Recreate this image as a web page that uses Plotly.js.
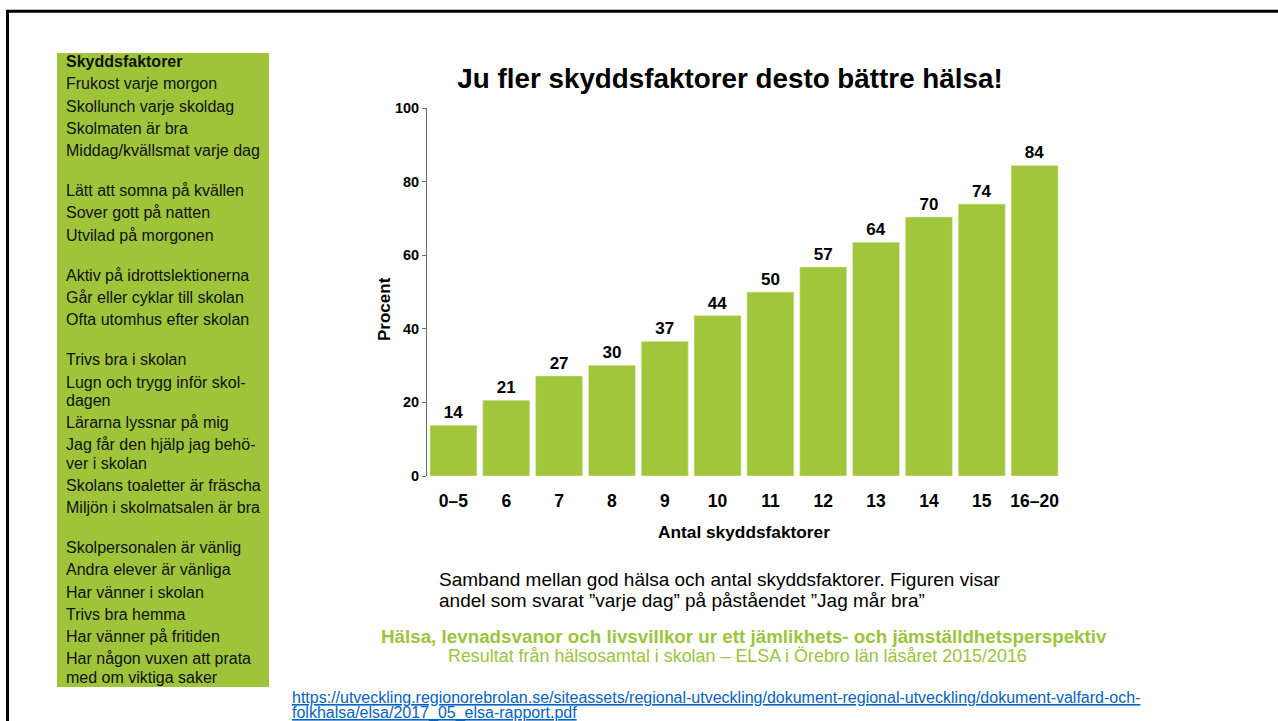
<!DOCTYPE html>
<html>
<head>
<meta charset="utf-8">
<script src="https://cdn.plot.ly/plotly-3.0.1.min.js"></script>
<style>
  html, body { margin: 0; padding: 0; background: #ffffff; }
  #chart { width: 1278px; height: 721px; }
</style>
</head>
<body>
<div id="chart"></div>
<script>
// ---- Data ----
const categories = ["0–5", "6", "7", "8", "9", "10", "11", "12", "13", "14", "15", "16–20"];
const percentValues = [13.8, 20.6, 27.2, 30.1, 36.6, 43.6, 50.0, 56.8, 63.5, 70.4, 73.9, 84.4];
const yTickValues = [0, 20, 40, 60, 80, 100];

const chartTitle = "Ju fler skyddsfaktorer desto bättre hälsa!";
const xAxisTitle = "Antal skyddsfaktorer";
const yAxisTitle = "Procent";

const panelHeader = "Skyddsfaktorer";
const panelGroups = [
  ["Frukost varje morgon", "Skollunch varje skoldag", "Skolmaten är bra", "Middag/kvällsmat varje dag"],
  ["Lätt att somna på kvällen", "Sover gott på natten", "Utvilad på morgonen"],
  ["Aktiv på idrottslektionerna", "Går eller cyklar till skolan", "Ofta utomhus efter skolan"],
  ["Trivs bra i skolan", "Lugn och trygg inför skol-\ndagen", "Lärarna lyssnar på mig",
   "Jag får den hjälp jag behö-\nver i skolan", "Skolans toaletter är fräscha", "Miljön i skolmatsalen är bra"],
  ["Skolpersonalen är vänlig", "Andra elever är vänliga", "Har vänner i skolan", "Trivs bra hemma",
   "Har vänner på fritiden", "Har någon vuxen att prata\nmed om viktiga saker"]
];

const captionLines = [
  "Samband mellan god hälsa och antal skyddsfaktorer. Figuren visar",
  "andel som svarat ”varje dag” på påståendet ”Jag mår bra”"
];
const sourceTitle = "Hälsa, levnadsvanor och livsvillkor ur ett jämlikhets- och jämställdhetsperspektiv";
const sourceSubtitle = "Resultat från hälsosamtal i skolan – ELSA i Örebro län läsåret 2015/2016";
const urlLines = [
  "https://utveckling.regionorebrolan.se/siteassets/regional-utveckling/dokument-regional-utveckling/dokument-valfard-och-",
  "folkhalsa/elsa/2017_05_elsa-rapport.pdf"
];

// ---- Layout geometry ----
const W = 1278, H = 721;
const M = { l: 427, r: 217, t: 108, b: 245 };
const PW = W - M.l - M.r, PH = H - M.t - M.b;
const px = x => (x - M.l) / PW;          // pixel x -> paper x
const py = y => (H - M.b - y) / PH;      // pixel y -> paper y

const FONT = "Liberation Sans, Arial, Helvetica, sans-serif";
const GREEN = "#9fc43a";
const BAR_GREEN = "#a1c63c";
const TEXT_GREEN = "#9cc43c";

const annotations = [];
const shapes = [];

// Green side panel
shapes.push({ type: "rect", xref: "paper", yref: "paper",
  x0: px(57), x1: px(269), y0: py(53), y1: py(687),
  fillcolor: GREEN, line: { width: 0 }, layer: "below" });

// Frame lines (top and left)
shapes.push({ type: "line", xref: "paper", yref: "paper",
  x0: px(6), x1: px(1300), y0: py(11.3), y1: py(11.3), line: { color: "#000", width: 3 } });
shapes.push({ type: "line", xref: "paper", yref: "paper",
  x0: px(7.5), x1: px(7.5), y0: py(10), y1: py(740), line: { color: "#000", width: 3 } });

// Panel text
const panelX = px(64);
const itemStep = 22.2, wrapStep = 18.3, groupGap = 18;
let cy = 61.7;
function addPanelLine(text, y, bold) {
  annotations.push({ xref: "paper", yref: "paper", x: panelX, y: py(y),
    xanchor: "left", yanchor: "middle", showarrow: false,
    text: bold ? "<b>" + text + "</b>" : text,
    font: { family: FONT, size: 16, color: "#111" } });
}
addPanelLine(panelHeader, cy, true);
cy += itemStep;
panelGroups.forEach((group, gi) => {
  if (gi > 0) cy += groupGap;
  group.forEach(item => {
    const parts = item.split("\n");
    parts.forEach((p, pi) => addPanelLine(p, cy + pi * wrapStep, false));
    cy += (parts.length - 1) * wrapStep + itemStep;
  });
});

// Y axis title (rotated)
annotations.push({ xref: "paper", yref: "paper", x: px(384), y: py(309),
  xanchor: "center", yanchor: "middle", textangle: -90, showarrow: false,
  text: "<b>" + yAxisTitle + "</b>", font: { family: FONT, size: 17, color: "#000" } });

// X axis title
annotations.push({ xref: "paper", yref: "paper", x: px(744), y: py(532),
  xanchor: "center", yanchor: "middle", showarrow: false,
  text: "<b>" + xAxisTitle + "</b>", font: { family: FONT, size: 17.3, color: "#000" } });

// Caption
captionLines.forEach((t, i) => {
  annotations.push({ xref: "paper", yref: "paper", x: px(437), y: py(579 + i * 21.5),
    xanchor: "left", yanchor: "middle", showarrow: false,
    text: t, font: { family: FONT, size: 19, color: "#000" } });
});

// Source
annotations.push({ xref: "paper", yref: "paper", x: px(743.5), y: py(636),
  xanchor: "center", yanchor: "middle", showarrow: false,
  text: "<b>" + sourceTitle + "</b>", font: { family: FONT, size: 18.8, color: TEXT_GREEN } });
annotations.push({ xref: "paper", yref: "paper", x: px(737), y: py(656),
  xanchor: "center", yanchor: "middle", showarrow: false,
  text: sourceSubtitle, font: { family: FONT, size: 17.9, color: TEXT_GREEN } });

// URL
urlLines.forEach((t, i) => {
  annotations.push({ xref: "paper", yref: "paper", x: px(290), y: py(697 + i * 16),
    xanchor: "left", yanchor: "middle", showarrow: false,
    text: "<u>" + t + "</u>", font: { family: FONT, size: 16, color: "#0563c1" } });
});

const trace = {
  type: "bar",
  x: categories,
  y: percentValues,
  marker: { color: BAR_GREEN, line: { color: "#e6f0cc", width: 0.5 } },
  text: percentValues.map(v => String(Math.round(v))),
  textposition: "outside",
  textfont: { family: FONT, size: 17, color: "#000", weight: "bold" },
  cliponaxis: false,
  hoverinfo: "skip"
};

const layout = {
  width: W, height: H,
  margin: M,
  paper_bgcolor: "#ffffff",
  plot_bgcolor: "rgba(0,0,0,0)",
  showlegend: false,
  bargap: 0.11,
  font: { family: FONT, color: "#000" },
  title: {
    text: "<b>" + chartTitle + "</b>",
    font: { family: FONT, size: 27.8, color: "#000" },
    xref: "paper", x: px(730), xanchor: "center",
    yref: "container", y: 1 - 78 / H, yanchor: "middle"
  },
  xaxis: {
    type: "category",
    showline: false, showgrid: false, zeroline: false,
    ticks: "",
    ticklabelstandoff: 12,
    tickfont: { family: FONT, size: 17.5, color: "#000", weight: "bold" }
  },
  yaxis: {
    range: [0, 100],
    tickvals: yTickValues,
    showline: true, linecolor: "#6b6b6b", linewidth: 1,
    ticks: "outside", ticklen: 4, tickwidth: 1, tickcolor: "#6b6b6b",
    showgrid: false, zeroline: false,
    tickfont: { family: FONT, size: 14.5, color: "#000", weight: "bold" }
  },
  shapes: shapes,
  annotations: annotations
};

Plotly.newPlot("chart", [trace], layout, { displayModeBar: false, staticPlot: true });
</script>
</body>
</html>
